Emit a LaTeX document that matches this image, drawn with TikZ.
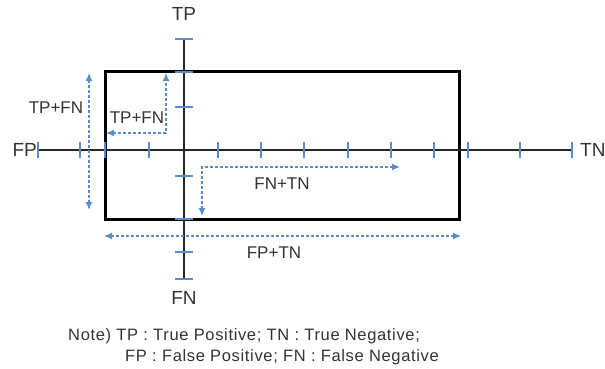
\documentclass[tikz,border=0pt]{standalone}
\usepackage{fontspec}
\setmainfont{Liberation Sans}
\usetikzlibrary{arrows.meta}
\definecolor{axisblue}{HTML}{5B8CC8}
\definecolor{txt}{HTML}{333333}
\begin{document}
\begin{tikzpicture}[x=1pt,y=-1pt,
  axis/.style={draw=black!85,line width=1.6pt},
  frame/.style={draw=black,line width=3pt},
  tick/.style={draw=axisblue,line width=1.3pt},
  span/.style={draw=axisblue,line width=1.2pt,dash pattern=on 3pt off 2pt,
    {Latex[length=8pt,width=7pt]}-{Latex[length=8pt,width=7pt]}},
  lbl/.style={text=txt,font=\fontsize{17}{19}\selectfont,inner sep=0pt},
  axlbl/.style={text=txt,font=\fontsize{19}{21}\selectfont,inner sep=0pt},
  note/.style={text=txt,font=\fontsize{16.5}{19}\selectfont\addfontfeature{LetterSpace=4},
    inner sep=0pt}]
\useasboundingbox (0,0) rectangle (605,369);

% axis end points
\coordinate (xl) at (38,150);
\coordinate (xr) at (572,150);
\coordinate (yt) at (184,39);
\coordinate (yb) at (184,279);

% the rectangle
\draw[frame] (105,72) rectangle (459,219);

% axes
\draw[axis] (xl) -- (xr);
\draw[axis] (yt) -- (yb);

% ticks
\foreach \x in {38,80,105,149,218,261,304,348,391,434,468,520,572}
  \draw[tick] (\x,142) -- (\x,158);
\foreach \y in {39,72,107,176,219,252,279}
  \draw[tick] (175,\y) -- (193,\y);

% axis labels
\node[axlbl,anchor=east] (fp) at (37,150) {FP};
\node[axlbl,anchor=west] (tn) at (580,150) {TN};
\node[axlbl] (tp) at (184,14) {TP};
\node[axlbl] (fn) at (184,298) {FN};

% dimension arrows
\coordinate (a1) at (89,73);
\coordinate (a2) at (89,210);
\draw[span] (a1) -- (a2);
\node[lbl] (l1) at (56,108) {TP+FN};

\coordinate (b1) at (106,133);
\coordinate (b2) at (166,73);
\draw[span] (b1) -| (b2);
\node[lbl] (l2) at (137,118) {TP+FN};

\coordinate (c1) at (202,216);
\coordinate (c2) at (400,167);
\draw[span] (c1) |- (c2);
\node[lbl] (l3) at (282,184) {FN+TN};

\coordinate (d1) at (104,236);
\coordinate (d2) at (461,236);
\draw[span] (d1) -- (d2);
\node[lbl] (l4) at (274,253) {FP+TN};

% legend
\node[note,anchor=base west] (nt1) at (68,340)
  {Note) TP : True Positive; TN : True Negative;};
\node[note,anchor=base west] (nt2) at (125,361)
  {FP : False Positive; FN : False Negative};
\end{tikzpicture}
\end{document}
